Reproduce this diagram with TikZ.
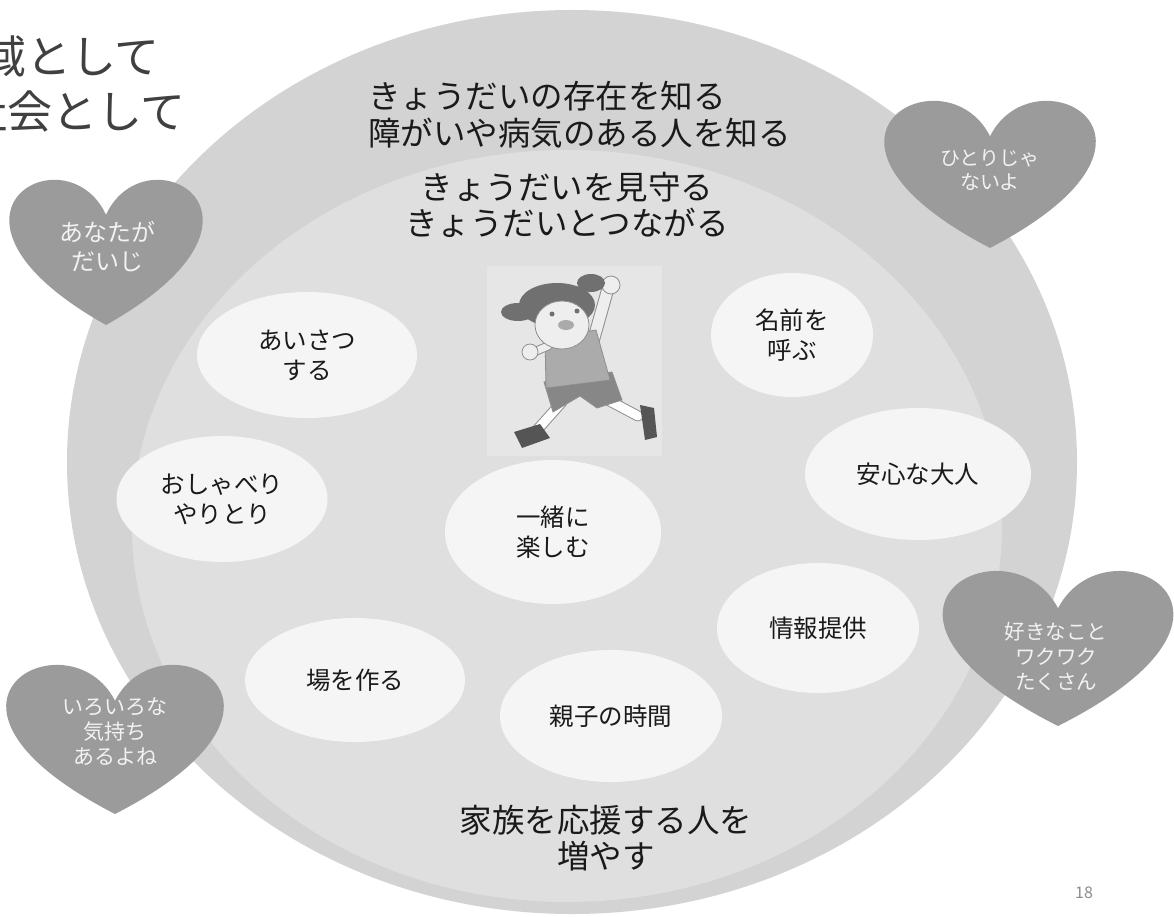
\documentclass[tikz,border=0pt]{standalone}
\usepackage{fontspec}
\setmainfont{Noto Sans CJK JP}
\usetikzlibrary{shapes.geometric}

\definecolor{outerband}{HTML}{D3D3D3}
\definecolor{innerdisk}{HTML}{DFDFDF}
\definecolor{bubblefill}{HTML}{F5F5F5}
\definecolor{heartfill}{HTML}{9B9B9B}
\definecolor{hearttextc}{HTML}{F2F2F2}
\definecolor{titlegray}{HTML}{404040}
\definecolor{maintext}{HTML}{1A1A1A}
\definecolor{pagegray}{HTML}{8C8C8C}
\definecolor{kidbg}{HTML}{E6E6E6}
\definecolor{kidhair}{HTML}{707070}
\definecolor{kidskin}{HTML}{EEEEEE}
\definecolor{kidshirt}{HTML}{ABABAB}
\definecolor{kidshorts}{HTML}{878787}
\definecolor{kidshoe}{HTML}{555555}
\definecolor{kidline}{HTML}{8F8F8F}

% heart outline: centre x, top y, width, height (pixel units, y downwards)
\newcommand\heartpath[4]{%
  (#1,#2+#4/4) .. controls (#1+10*#3/48,#2-#4/3) and (#1+49*#3/48,#2+#4/4) .. (#1,#2+#4)
  .. controls (#1-49*#3/48,#2+#4/4) and (#1-10*#3/48,#2-#4/3) .. (#1,#2+#4/4) -- cycle}

\tikzset{
  bubble/.style={ellipse, fill=bubblefill, inner sep=0pt, align=center,
    text=maintext, font=\fontsize{24.5}{30}\selectfont},
  heartlabel/.style={align=center, inner sep=0pt, text=hearttextc},
  bigtext/.style={inner sep=0pt, text=maintext, font=\fontsize{32.5}{36.5}\selectfont},
  titletext/.style={inner sep=0pt, anchor=east, text=titlegray,
    font=\fontsize{45}{50}\selectfont},
  kidoutline/.style={draw=kidline, line width=0.8pt},
}

\begin{document}
\begin{tikzpicture}[x=1pt, y=-1pt]
\useasboundingbox (0,0) rectangle (1174,917);
\fill[white] (0,0) rectangle (1174,917);

% nested discs
\fill[outerband] (572,462) ellipse [x radius=505pt, y radius=452pt];
\fill[innerdisk] (567,526) ellipse [x radius=435pt, y radius=376pt];

% heading, running off the left edge of the page
\node[titletext] (title1) at (160,56) {地域として};
\node[titletext] (title2) at (186,111) {社会として};

% ring texts
\node[bigtext, align=left, anchor=west] (know) at (368,115)
  {きょうだいの存在を知る\\障がいや病気のある人を知る};
\node[bigtext, align=center] (watch) at (567,205)
  {きょうだいを見守る\\きょうだいとつながる};
\node[bigtext, align=center] (support) at (606,838)
  {家族を応援する人を\\増やす};

% running girl picture
\fill[kidbg] (487,266) rectangle (662,456);
\begin{scope}
  % legs
  \draw[kidline, line width=11pt, line cap=round] (562,402) -- (537,430);
  \draw[white, line width=9pt, line cap=round] (562,402) -- (537,430);
  \draw[kidline, line width=11pt, line cap=round] (604,398) -- (638,416);
  \draw[white, line width=9pt, line cap=round] (604,398) -- (638,416);
  % shoes
  \fill[kidshoe] (514,432) -- (540,424) -- (550,438) -- (522,448) -- cycle;
  \fill[kidshoe] (640,405) -- (654,408) -- (657,437) -- (645,440) -- cycle;
  % shorts
  \filldraw[fill=kidshorts, kidoutline] (544,382) -- (612,372) -- (622,400)
    -- (597,408) -- (580,396) -- (553,412) -- cycle;
  % raised arm
  \draw[kidline, line width=13pt, line cap=round] (592,345) -- (607,292);
  \draw[kidskin, line width=11pt, line cap=round] (592,345) -- (607,292);
  \filldraw[fill=kidskin, kidoutline] (611,285) circle [radius=9pt];
  % shirt
  \filldraw[fill=kidshirt, kidoutline] (545,338) -- (596,330) -- (610,380)
    -- (546,388) -- cycle;
  % other arm and fist
  \draw[kidline, line width=9pt, line cap=round] (548,346) -- (534,352);
  \draw[kidskin, line width=7pt, line cap=round] (548,346) -- (534,352);
  \filldraw[fill=kidskin, kidoutline] (530,352) circle [radius=8pt];
  % hair and pigtails
  \fill[kidhair] (518,312) ellipse [x radius=17pt, y radius=9pt];
  \fill[kidhair] (591,283) ellipse [x radius=14pt, y radius=9pt];
  \fill[kidhair] (557,305) ellipse [x radius=38pt, y radius=22pt];
  % face
  \filldraw[fill=kidskin, kidoutline] (562,325) ellipse [x radius=27pt, y radius=24pt];
  \fill[kidhair] (552,314) circle [radius=2.5pt];
  \fill[kidhair] (577,311) circle [radius=2.5pt];
  \fill[kidshirt] (566,325) ellipse [x radius=8pt, y radius=5pt];
\end{scope}

% bubbles
\node[bubble, minimum width=220pt, minimum height=126pt] (greet) at (307,355) {あいさつ\\する};
\node[bubble, minimum width=162pt, minimum height=124pt] (name) at (792,335) {名前を\\呼ぶ};
\node[bubble, minimum width=226pt, minimum height=132pt] (safe) at (918,474) {安心な大人};
\node[bubble, minimum width=211pt, minimum height=126pt] (chat) at (222,499) {おしゃべり\\やりとり};
\node[bubble, minimum width=216pt, minimum height=144pt] (enjoy) at (553,532) {一緒に\\楽しむ};
\node[bubble, minimum width=202pt, minimum height=130pt] (info) at (818,628) {情報提供};
\node[bubble, minimum width=220pt, minimum height=124pt] (place) at (355,680) {場を作る};
\node[bubble, minimum width=222pt, minimum height=132pt] (family) at (611,716) {親子の時間};

% hearts
\fill[heartfill] \heartpath{106}{178}{192}{147};
\node[heartlabel, font=\fontsize{24}{29}\selectfont] (h1) at (107,247) {あなたが\\だいじ};
\fill[heartfill] \heartpath{990}{99}{210}{149};
\node[heartlabel, font=\fontsize{20}{24}\selectfont] (h2) at (990,170) {ひとりじゃ\\ないよ};
\fill[heartfill] \heartpath{1058}{569}{229}{157};
\node[heartlabel, font=\fontsize{20.5}{25}\selectfont] (h3) at (1056,657) {好きなこと\\ワクワク\\たくさん};
\fill[heartfill] \heartpath{115}{663}{216}{151};
\node[heartlabel, font=\fontsize{21}{25}\selectfont] (h4) at (115,732) {いろいろな\\気持ち\\あるよね};

% page number
\node[inner sep=0pt, text=pagegray, font=\fontsize{16}{18}\selectfont] (page) at (1084,893) {18};
\end{tikzpicture}
\end{document}
